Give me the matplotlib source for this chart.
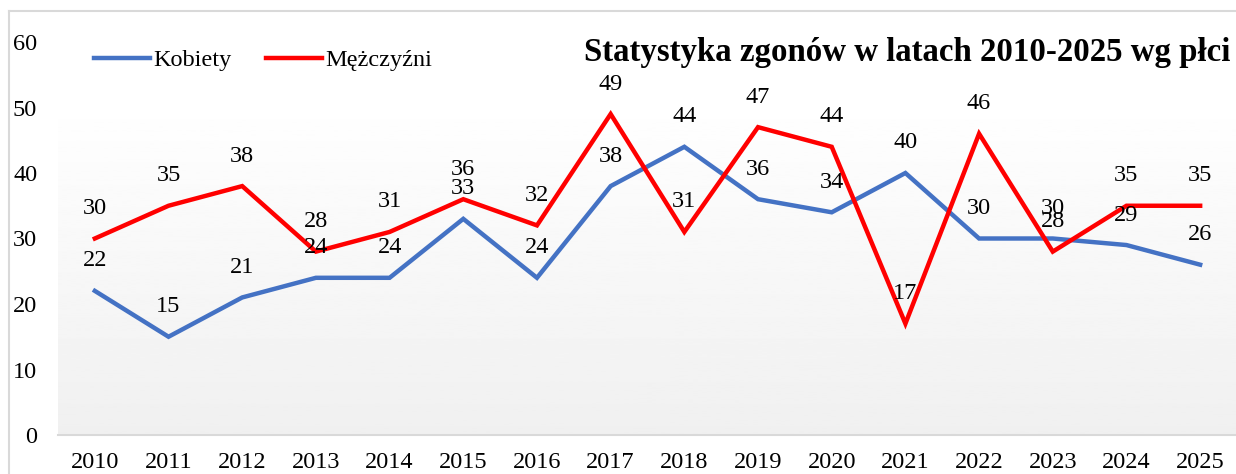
import matplotlib
matplotlib.use("Agg")
import matplotlib.pyplot as plt
import numpy as np

plt.rcParams['font.family'] = ['Liberation Serif', 'DejaVu Serif']

# dane
lata = list(range(2010, 2026))
kobiety = [22, 15, 21, 24, 24, 33, 24, 38, 44, 36, 34, 40, 30, 30, 29, 26]
mezczyzni = [30, 35, 38, 28, 31, 36, 32, 49, 31, 47, 44, 17, 46, 28, 35, 35]
y_ticks = [0, 10, 20, 30, 40, 50, 60]

W, H = 1236, 474
fig = plt.figure(figsize=(W / 100, H / 100), dpi=100)

# ramka wykresu (jak w Excelu)
fig.add_artist(plt.Line2D([8.5 / W, 8.5 / W], [0, 1 - 10.5 / H], color='#D9D9D9', lw=1.5))
fig.add_artist(plt.Line2D([8.5 / W, 1], [1 - 10.5 / H, 1 - 10.5 / H], color='#D9D9D9', lw=1.5))

ax = fig.add_axes([58 / W, 39 / H, (1237 - 58) / W, (435 - 42) / H])
ax.set_xlim(2009.5, 2025.5)
ax.set_ylim(0, 60)

# tło z gradientem (obszar kreślenia)
grad = np.linspace(0.94, 1.0, 256).reshape(-1, 1)
top_val = (435 - 97) / 6.55
ax.imshow(grad, extent=[2009.5, 2025.5, 0, top_val], origin='lower', aspect='auto',
          cmap='gray', vmin=0, vmax=1, zorder=0)

ax.plot(lata, kobiety, color='#4472C4', lw=3.2, label='Kobiety', zorder=3,
        solid_joinstyle='miter')
ax.plot(lata, mezczyzni, color='#FF0000', lw=3.2, label='Mężczyźni', zorder=3,
        solid_joinstyle='miter')

# etykiety danych
for x, y in zip(lata, kobiety):
    ax.annotate(str(y), (x, y), xytext=(0, 30), textcoords='offset pixels',
                ha='center', va='center', fontsize=17.5, zorder=4)
for x, y in zip(lata, mezczyzni):
    ax.annotate(str(y), (x, y), xytext=(0, 30), textcoords='offset pixels',
                ha='center', va='center', fontsize=17.5, zorder=4)

ax.set_xticks(lata)
ax.set_xticklabels([str(r) for r in lata], fontsize=17.5)
ax.set_yticks(y_ticks)
ax.set_yticklabels([str(v) for v in y_ticks], fontsize=17.5)
ax.tick_params(axis='both', length=0)
ax.tick_params(axis='x', pad=12)
ax.tick_params(axis='y', pad=15)

for s in ['top', 'left', 'right']:
    ax.spines[s].set_visible(False)
ax.spines['bottom'].set_color('#D9D9D9')
ax.spines['bottom'].set_linewidth(1.5)

ax.legend(loc='center left', bbox_to_anchor=(72 / W, 1 - 60 / H),
          bbox_transform=fig.transFigure, ncol=2, frameon=False, fontsize=17.5,
          handlelength=2.3, handletextpad=0.15, columnspacing=1.4)

fig.text(1230 / W, 1 - 52 / H, 'Statystyka zgonów w latach 2010-2025 wg płci',
         ha='right', va='center', fontsize=23.7, fontweight='bold')

fig.savefig('out.png', dpi=100)
